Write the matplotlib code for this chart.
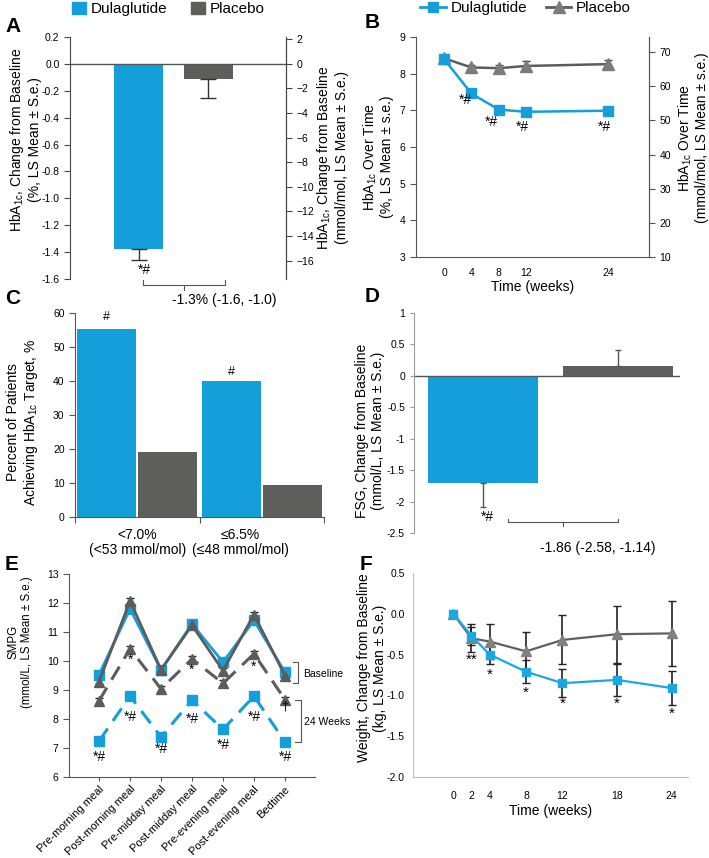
import matplotlib
matplotlib.use("Agg")
import matplotlib.pyplot as plt
import numpy as np
from matplotlib.patches import Patch
from matplotlib.lines import Line2D

plt.rcParams['font.family'] = ['Liberation Sans', 'DejaVu Sans']
plt.rcParams['mathtext.fontset'] = 'custom'
plt.rcParams['mathtext.rm'] = 'Liberation Sans'
plt.rcParams['mathtext.default'] = 'regular'

# ---------------- data ----------------
groups = ["Dulaglutide", "Placebo"]
# A: HbA1c change from baseline (%)
a_vals = [-1.38, -0.11]
a_err = [0.08, 0.14]
a_factor = 10.93  # mmol/mol per %
# B: HbA1c over time
b_weeks = [0, 4, 8, 12, 24]
b_dula = [8.40, 7.46, 7.02, 6.96, 6.99]
b_dula_err = [0.05, 0.05, 0.05, 0.05, 0.05]
b_plac = [8.42, 8.17, 8.15, 8.21, 8.26]
b_plac_err = [0.08, 0.08, 0.10, 0.13, 0.12]
# C: percent achieving target
c_cats = ["<7.0%\n(<53 mmol/mol)", "≤6.5%\n(≤48 mmol/mol)"]
c_dula = [55.4, 40.1]
c_plac = [19.0, 9.5]
# D: FSG change
d_vals = [-1.70, 0.155]
d_err = [0.38, 0.25]
# E: SMPG
e_cats = ["Pre-morning meal", "Post-morning meal", "Pre-midday meal", "Post-midday meal",
          "Pre-evening meal", "Post-evening meal", "Bedtime"]
e_dula_base = [9.53, 11.80, 9.69, 11.28, 9.96, 11.40, 9.61]
e_plac_base = [9.29, 12.07, 9.70, 11.23, 9.67, 11.60, 9.50]
e_plac_24 = [8.63, 10.42, 9.04, 10.07, 9.23, 10.25, 8.67]
e_dula_24 = [7.24, 8.79, 7.38, 8.65, 7.64, 8.79, 7.21]
e_err = 0.10
# F: weight change
f_weeks = [0, 2, 4, 8, 12, 18, 24]
f_dula = [0.0, -0.27, -0.50, -0.71, -0.85, -0.81, -0.91]
f_dula_err = [0.0, 0.11, 0.12, 0.14, 0.17, 0.20, 0.21]
f_plac = [0.0, -0.30, -0.34, -0.46, -0.32, -0.25, -0.24]
f_plac_err = [0.0, 0.17, 0.21, 0.24, 0.30, 0.35, 0.40]

BLUE = '#159FDA'
GRAYBAR = '#5E5F5A'
GRAYLINE = '#5C5C5C'
GRAYMK = '#7C7C7C'

W, H = 709, 858
fig = plt.figure(figsize=(W/100, H/100), dpi=100)

def add_ax(l, t, r, b):
    return fig.add_axes([l/W, 1-b/H, (r-l)/W, (b-t)/H])

def ftext(x, y, s, **kw):
    fig.text(x/W, 1-y/H, s, **kw)

LBL = 10
TCK = 7.5

# ---------------- A ----------------
axA = add_ax(70, 37, 286, 279)
axA.bar([0, 1], a_vals, width=0.7, color=[BLUE, GRAYBAR])
for x, v, e in zip([0, 1], a_vals, a_err):
    axA.errorbar(x, v, yerr=[[e], [0]], fmt='none', ecolor='#333333', elinewidth=1, capsize=6)
axA.axhline(0, color='#555555', lw=1)
axA.set_xlim(-0.98, 2.11)
axA.set_ylim(-1.6, 0.2)
a_ticks = np.round(np.arange(-1.6, 0.21, 0.2), 1)
axA.set_yticks(a_ticks)
axA.set_yticklabels([f"{abs(t):.1f}" if abs(t) < 1e-9 else f"{t:.1f}" for t in a_ticks])
axA.set_xticks([])
for s in ['top', 'bottom']:
    axA.spines[s].set_visible(False)
for s in ['left', 'right']:
    axA.spines[s].set_color('#444444')
axA.tick_params(axis='y', labelsize=TCK, length=4, color='#444444', width=0.8)
axA2 = axA.twinx()
axA2.set_ylim(-1.6*a_factor, 0.2*a_factor)
axA2.set_yticks(np.arange(-16, 3, 2))
axA2.tick_params(axis='y', labelsize=TCK, length=4, color='#444444', width=0.8)
for s in ['top', 'bottom', 'left']:
    axA2.spines[s].set_visible(False)
axA2.spines['right'].set_color('#444444')
axA.text(0.08, -1.53, "*#", ha='center', va='center', fontsize=10)
# bracket
by = -1.645
axA.plot([0.064, 0.064, 1.236, 1.236], [by+0.04, by, by, by+0.04], color='#555555', lw=0.8, clip_on=False)
axA.plot([0.65, 0.65], [by, by-0.035], color='#555555', lw=0.8, clip_on=False)
ftext(172, 300, "-1.3% (-1.6, -1.0)", ha='left', va='center', fontsize=10)
ftext(25, 140, "HbA$_{1c}$, Change from Baseline\n(%, LS Mean ± S.e.)", rotation=90,
      ha='center', va='center', fontsize=LBL, linespacing=1.1)
ftext(332, 158, "HbA$_{1c}$, Change from Baseline\n(mmol/mol, LS Mean ± S.e.)", rotation=90,
      ha='center', va='center', fontsize=LBL, linespacing=1.1)
axA.legend(handles=[Patch(color=BLUE, label=groups[0]), Patch(color=GRAYBAR, label=groups[1])],
           loc='center left', bbox_to_anchor=(72/W, 1-9/H), bbox_transform=fig.transFigure,
           ncol=2, frameon=False, fontsize=11, handlelength=0.9, handleheight=0.9,
           handletextpad=0.3, columnspacing=1.6, borderpad=0, borderaxespad=0)

# ---------------- B ----------------
axB = add_ax(416, 37, 649, 257)
axB.errorbar(b_weeks, b_plac, yerr=b_plac_err, color=GRAYLINE, lw=1.8, marker='^', ms=8,
             mfc=GRAYMK, mec=GRAYMK, ecolor='#444444', elinewidth=1, capsize=3)
axB.errorbar(b_weeks, b_dula, yerr=b_dula_err, color=BLUE, lw=1.8, marker='s', ms=7,
             mfc=BLUE, mec=BLUE, ecolor='#444444', elinewidth=1, capsize=2)
axB.set_xlim(-4.1, 30)
axB.set_ylim(3, 9)
axB.set_xticks(b_weeks)
axB.set_yticks(range(3, 10))
axB.tick_params(axis='x', length=0, labelsize=TCK, pad=8)
axB.tick_params(axis='y', labelsize=TCK, length=4, color='#555555', width=0.8)
axB.spines['top'].set_visible(False)
for s in ['left', 'right', 'bottom']:
    axB.spines[s].set_color('#555555')
axB2 = axB.twinx()
axB2.set_ylim(10, 74.4)
axB2.set_yticks(range(10, 71, 10))
axB2.tick_params(axis='y', labelsize=TCK, length=4, color='#555555', width=0.8)
for s in ['top', 'left', 'bottom']:
    axB2.spines[s].set_visible(False)
axB2.spines['right'].set_color('#555555')
for x, y in [(3.07, 7.27), (7.0, 6.67), (11.5, 6.54), (23.5, 6.54)]:
    axB.text(x, y, "*#", ha='center', va='center', fontsize=10)
axB.set_xlabel("Time (weeks)", fontsize=LBL, labelpad=1)
ftext(378, 157, "HbA$_{1c}$ Over Time\n(%, LS Mean ± s.e.)", rotation=90,
      ha='center', va='center', fontsize=LBL, linespacing=1.1)
ftext(693, 138, "HbA$_{1c}$ Over Time\n(mmol/mol, LS Mean ± s.e.)", rotation=90,
      ha='center', va='center', fontsize=LBL, linespacing=1.1)
axB.legend(handles=[Line2D([], [], color=BLUE, lw=2, marker='s', ms=7, label=groups[0]),
                    Line2D([], [], color=GRAYLINE, lw=2, marker='^', ms=8, mfc=GRAYMK, mec=GRAYMK, label=groups[1])],
           loc='center left', bbox_to_anchor=(420/W, 1-8/H), bbox_transform=fig.transFigure,
           ncol=2, frameon=False, fontsize=11, handlelength=1.7, handletextpad=0.3,
           columnspacing=1.2, borderpad=0, borderaxespad=0)

# ---------------- C ----------------
axC = add_ax(75, 313, 324, 517)
xc = np.arange(len(c_cats))
axC.bar(xc-0.245, c_dula, width=0.475, color=BLUE)
axC.bar(xc+0.245, c_plac, width=0.475, color=GRAYBAR)
axC.set_xlim(-0.5, 1.5)
axC.set_ylim(0, 60)
axC.set_yticks(range(0, 61, 10))
axC.set_xticks([-0.5, 0.5, 1.5])
axC.set_xticklabels([])
axC.tick_params(axis='both', labelsize=TCK, length=4, color='#555555', width=0.8)
for s in ['top', 'right']:
    axC.spines[s].set_visible(False)
for s in ['left', 'bottom']:
    axC.spines[s].set_color('#555555')
for x, lab in zip([0, 0.83], c_cats):
    axC.text(x, -3.3, lab, ha='center', va='top', fontsize=10, linespacing=1.1)
axC.text(-0.245, 58.8, "#", ha='center', va='center', fontsize=9)
axC.text(0.755, 42.7, "#", ha='center', va='center', fontsize=9)
ftext(23, 422, "Percent of Patients\nAchieving HbA$_{1c}$ Target, %", rotation=90,
      ha='center', va='center', fontsize=LBL, linespacing=1.1)

# ---------------- D ----------------
axD = add_ax(414, 313, 680, 533)
axD.bar([0, 1], d_vals, width=0.815, color=[BLUE, GRAYBAR])
axD.errorbar(0, d_vals[0], yerr=[[d_err[0]], [0]], fmt='none', ecolor='#555555', elinewidth=1, capsize=2)
axD.errorbar(1, d_vals[1], yerr=[[0], [d_err[1]]], fmt='none', ecolor='#555555', elinewidth=1, capsize=2)
axD.axhline(0, color='#555555', lw=1)
axD.set_xlim(-0.511, 1.459)
axD.set_ylim(-2.5, 1)
d_ticks = np.round(np.arange(-2.5, 1.01, 0.5), 1)
axD.set_yticks(d_ticks)
axD.set_yticklabels([f"{t:g}" if abs(t) > 1e-9 else "0" for t in d_ticks])
axD.set_xticks([])
for s in ['top', 'right', 'bottom']:
    axD.spines[s].set_visible(False)
axD.spines['left'].set_color('#999999')
axD.tick_params(axis='y', labelsize=TCK, length=3, color='#999999', width=0.8)
axD.text(0.03, -2.245, "*#", ha='center', va='center', fontsize=10)
dy = -2.33
axD.plot([0.185, 0.185, 1.0, 1.0], [dy+0.06, dy, dy, dy+0.06], color='#555555', lw=0.8, clip_on=False)
axD.plot([0.593, 0.593], [dy, dy-0.06], color='#555555', lw=0.8, clip_on=False)
ftext(598, 548, "-1.86 (-2.58, -1.14)", ha='center', va='center', fontsize=10)
ftext(370, 431, "FSG, Change from Baseline\n(mmol/L, LS Mean ± S.e.)", rotation=90,
      ha='center', va='center', fontsize=LBL, linespacing=1.1)

# ---------------- E ----------------
axE = add_ax(69, 574, 315, 777)
xe = np.arange(len(e_cats))
axE.errorbar(xe, e_dula_base, yerr=e_err, color=BLUE, lw=2, marker='s', ms=6.5, mfc=BLUE, mec=BLUE,
             ecolor='#222222', elinewidth=0.8, capsize=3)
axE.errorbar(xe, e_plac_base, yerr=e_err, color=GRAYLINE, lw=2, marker='^', ms=7.5, mfc=GRAYLINE, mec=GRAYLINE,
             ecolor='#222222', elinewidth=0.8, capsize=3)
axE.errorbar(xe, e_plac_24, yerr=e_err, color=GRAYLINE, lw=2.2, dashes=(5, 3), marker='^', ms=7.5,
             mfc=GRAYLINE, mec=GRAYLINE, ecolor='#222222', elinewidth=0.8, capsize=3)
axE.errorbar(xe, e_dula_24, yerr=e_err, color=BLUE, lw=2.2, dashes=(5, 3), marker='s', ms=7,
             mfc=BLUE, mec=BLUE, ecolor='#222222', elinewidth=0.8, capsize=3)
axE.set_xlim(-0.97, 6.97)
axE.set_ylim(6, 13)
axE.set_yticks(range(6, 14))
axE.set_xticks(xe)
axE.set_xticklabels(e_cats, rotation=45, ha='right', rotation_mode='anchor', fontsize=8.0)
axE.tick_params(axis='y', labelsize=TCK, length=4, color='#555555', width=0.8)
axE.tick_params(axis='x', length=3, color='#555555', width=0.8, pad=2)
for s in ['top', 'right']:
    axE.spines[s].set_visible(False)
for s in ['left', 'bottom']:
    axE.spines[s].set_color('#555555')
for x, y in [(1, 10.03), (3, 9.68), (5, 9.8)]:
    axE.text(x, y, "*", ha='center', va='center', fontsize=10)
for x, y in [(0, 6.68), (1, 8.07), (2, 6.96), (3, 8.0), (4, 7.12), (5, 8.07), (6, 6.68)]:
    axE.text(x, y, "*#", ha='center', va='center', fontsize=10)
axE.text(6.0, 8.42, "†", ha='center', va='center', fontsize=9)
axE.plot([6.26, 6.42, 6.42, 6.26], [9.96, 9.96, 9.23, 9.23], color='#555555', lw=0.8, clip_on=False)
axE.text(6.58, 9.55, "Baseline", ha='left', va='center', fontsize=7.5, clip_on=False)
axE.plot([6.32, 6.52, 6.52, 6.32], [8.65, 8.65, 7.21, 7.21], color='#555555', lw=0.8, clip_on=False)
axE.text(6.61, 7.89, "24 Weeks", ha='left', va='center', fontsize=7.5, clip_on=False)
ftext(20, 642, "SMPG\n(mmol/L, LS Mean ± S.e.)", rotation=90,
      ha='center', va='center', fontsize=8.3, linespacing=1.15)

# ---------------- F ----------------
axF = add_ax(413, 573, 688, 777)
axF.errorbar(f_weeks, f_plac, yerr=f_plac_err, color='#606060', lw=1.6, marker='^', ms=7,
             mfc='#808080', mec='#808080', ecolor='#222222', elinewidth=1.2, capsize=3)
axF.errorbar(f_weeks, f_dula, yerr=f_dula_err, color='#1BA7E0', lw=1.6, marker='s', ms=6,
             mfc='#1BA7E0', mec='#1BA7E0', ecolor='#222222', elinewidth=1.2, capsize=3)
axF.set_xlim(-4.43, 25.8)
axF.set_ylim(-2.0, 0.5)
axF.set_xticks(f_weeks)
f_ticks = np.round(np.arange(-2.0, 0.51, 0.5), 1)
axF.set_yticks(f_ticks)
axF.set_yticklabels([f"{t:.1f}" if abs(t) > 1e-9 else "0.0" for t in f_ticks])
axF.tick_params(axis='x', length=0, labelsize=TCK, pad=10)
axF.tick_params(axis='y', labelsize=TCK, length=0, pad=6)
for s in ['top', 'right']:
    axF.spines[s].set_visible(False)
for s in ['left', 'bottom']:
    axF.spines[s].set_color('#BBBBBB')
axF.text(2.05, -0.56, "**", ha='center', va='center', fontsize=11)
for x, y in [(4, -0.75), (8, -0.97), (12, -1.1), (18, -1.1), (24, -1.23)]:
    axF.text(x, y, "*", ha='center', va='center', fontsize=11)
axF.set_xlabel("Time (weeks)", fontsize=LBL, labelpad=2)
ftext(372, 668, "Weight, Change from Baseline\n(kg, LS Mean ± S.e.)", rotation=90,
      ha='center', va='center', fontsize=LBL, linespacing=1.1)

# panel letters
for lab, x, y in [("A", 5, 27), ("B", 365, 22), ("C", 5, 299), ("D", 365, 296), ("E", 5, 565), ("F", 360, 564)]:
    ftext(x, y, lab, ha='left', va='center', fontsize=15, fontweight='bold')

fig.savefig("out.png", dpi=100)
